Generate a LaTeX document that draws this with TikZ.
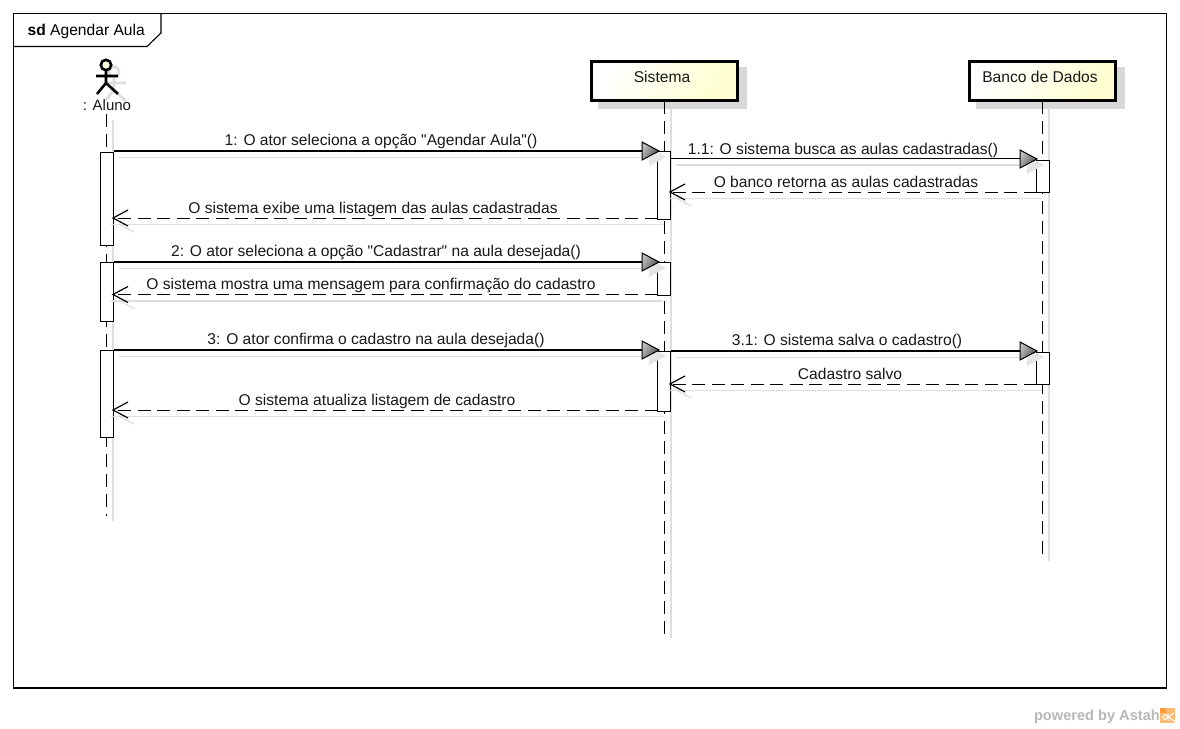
\documentclass[tikz,border=0pt]{standalone}
\usepackage{fontspec}
\newfontfamily\mf{Liberation Sans}
\begin{document}
\begin{tikzpicture}[x=1pt,y=-1pt,
  lbl/.style={font=\mf\fontsize{15.6}{18}\selectfont,inner sep=0pt,text=black!90},
  lifeln/.style={line width=1.2pt,dash pattern=on 13pt off 7pt,black},
  lifeshadow/.style={line width=1.6pt,draw=black!13},
  msg/.style={line width=1.1pt,black},
  retmsg/.style={line width=1pt,black,dash pattern=on 13pt off 6.5pt},
  msgshadow/.style={line width=1.6pt,draw=black!13},
  bar/.style={draw=black,fill=white,line width=1.1pt,minimum width=13pt,inner sep=0pt,anchor=north},
  headbox/.style={draw=black,line width=3pt,left color=white,right color=yellow!18,shading angle=60,minimum width=146pt,minimum height=39pt,inner sep=0pt,font=\mf\fontsize{15.6}{18}\selectfont},
  shadowbox/.style={fill=black!15,minimum width=149pt,minimum height=42pt,inner sep=0pt},
  actorln/.style={line width=2.6pt,black},
  actorsh/.style={line width=2.6pt,black!13}]
\useasboundingbox (0,0) rectangle (1180,728);
\fill[white] (0,0) rectangle (1180,728);
% frame
\draw[line width=1.1pt,black,fill=white] (13.5,13.5) rectangle (1166.5,688);
\draw[line width=1.1pt,black] (13.5,46.5) -- (147,46.5) -- (161,33) -- (161,13.5);
\node[font=\mf\fontsize{15.6}{18}\selectfont,inner sep=0pt,anchor=west] (frametitle) at (27.5,31.5) {\textbf{sd} Agendar Aula};
% lifeline coordinates
\coordinate (aT) at (106.5,114); \coordinate (aB) at (106.5,516);
\coordinate (sT) at (664.5,101); \coordinate (sB) at (664.5,636);
\coordinate (bT) at (1042.5,101); \coordinate (bB) at (1042.5,558);
% shadows
\draw[lifeshadow] (113,120) -- (113,521);
\draw[lifeshadow] (671,108) -- (671,638);
\draw[lifeshadow] (1049,108) -- (1049,561);
\node[shadowbox] (sysShadow) at (672,88) {};
\node[shadowbox] (dbShadow) at (1050,88) {};
% actor shadow
\begin{scope}[shift={(8,7)}]
\draw[actorsh,fill=white] (106,65) circle (5.2);
\draw[actorsh] (106,71) -- (106,83) (96,76) -- (118,76) (97,94) -- (106,83) -- (118,94);
\end{scope}
% lifelines
\draw[lifeln] (aT) -- (aB);
\draw[lifeln] (sT) -- (sB);
\draw[lifeln] (bT) -- (bB);
% heads
\node[headbox] (sys) at (664,80.5) {};
\node[lbl] (syslabel) at (662,77) {Sistema};
\node[headbox] (db) at (1042.5,80.5) {};
\node[lbl] (dblabel) at (1040,77) {Banco de Dados};
% actor
\draw[actorln,fill=yellow!15] (106,65) circle (5.2);
\draw[actorln] (106,71) -- (106,83) (96,76) -- (118,76) (97,94) -- (106,83) -- (118,94);
\node[lbl,font=\mf\fontsize{15}{18}\selectfont] (actor) at (107,105.5) {: Aluno};
% activation bars
\node[bar,minimum height=93.5pt] (a1) at (107,151.5) {};
\node[bar,minimum height=59.5pt] (a2) at (107,261.5) {};
\node[bar,minimum height=87.5pt] (a3) at (107,349.5) {};
\node[bar,minimum height=68pt] (s1) at (664,151) {};
\node[bar,minimum height=33pt] (s2) at (664,262) {};
\node[bar,minimum height=60pt] (s3) at (664,351) {};
\node[bar,minimum height=32.5pt] (b1) at (1043,159.5) {};
\node[bar,minimum height=32.5pt] (b2) at (1043,351.5) {};
\newcommand{\callarrow}[2]{% tip x, y
  \fill[black!10] (#1-10,#2-3) -- (#1+7,#2+6) -- (#1-10,#2+15) -- cycle;
  \draw[line width=1pt,black,top color=black!25,bottom color=black!70,shading angle=60] (#1-17,#2-9) -- (#1,#2) -- (#1-17,#2+9) -- cycle;
}
\newcommand{\retarrow}[2]{% tip x, y
  \draw[line width=1.2pt,black!13] (#1+6,#2+6) -- (#1+21,#2+14);
  \draw[line width=1.2pt,black] (#1+15,#2-8) -- (#1,#2) -- (#1+15,#2+8);
}
\coordinate (m1a) at (113.5,151); \coordinate (m1b) at (659,151);
\coordinate (m11a) at (670.5,158.5); \coordinate (m11b) at (1036.5,158.5);
\coordinate (r11a) at (1036.5,192); \coordinate (r11b) at (670.5,192);
\coordinate (r1a) at (657.5,218); \coordinate (r1b) at (113.5,218);
\coordinate (m2a) at (113.5,262); \coordinate (m2b) at (659,262);
\coordinate (r2a) at (657.5,294.5); \coordinate (r2b) at (113.5,294.5);
\coordinate (m3a) at (113.5,350); \coordinate (m3b) at (659,350);
\coordinate (m31a) at (670.5,351); \coordinate (m31b) at (1036.5,351);
\coordinate (r31a) at (1036.5,384); \coordinate (r31b) at (670.5,384);
\coordinate (r3a) at (657.5,410); \coordinate (r3b) at (113.5,410);
\foreach \p/\q in {m1a/m1b,m11a/m11b,r11a/r11b,r1a/r1b,m2a/m2b,r2a/r2b,m3a/m3b,m31a/m31b,r31a/r31b,r3a/r3b}{
  \draw[msgshadow] ([shift={(5,6.5)}]\p) -- ([shift={(-3,6.5)}]\q);
}
% lines
\draw[msg] (m1a) -- (m1b); \draw[msg] (m11a) -- (m11b);
\draw[retmsg] (r11a) -- (r11b); \draw[retmsg] (r1a) -- (r1b);
\draw[msg] (m2a) -- (m2b); \draw[retmsg] (r2a) -- (r2b);
\draw[msg] (m3a) -- (m3b); \draw[msg] (m31a) -- (m31b);
\draw[retmsg] (r31a) -- (r31b); \draw[retmsg] (r3a) -- (r3b);
% arrowheads
\callarrow{659}{151} \callarrow{1037}{159} \callarrow{659}{262}
\callarrow{659}{350} \callarrow{1037}{351}
\retarrow{670}{192} \retarrow{113}{218} \retarrow{113}{294.5}
\retarrow{670}{384} \retarrow{113}{410}
% labels
\node[lbl] (l1) at (381,141) {1: O ator seleciona a opção "Agendar Aula"()};
\node[lbl] (l11) at (843,150) {1.1: O sistema busca as aulas cadastradas()};
\node[lbl] (l11r) at (846,182) {O banco retorna as aulas cadastradas};
\node[lbl] (l1r) at (373,209) {O sistema exibe uma listagem das aulas cadastradas};
\node[lbl] (l2) at (376,252) {2: O ator seleciona a opção "Cadastrar" na aula desejada()};
\node[lbl] (l2r) at (371,285) {O sistema mostra uma mensagem para confirmação do cadastro};
\node[lbl] (l3) at (376,340) {3: O ator confirma o cadastro na aula desejada()};
\node[lbl] (l31) at (847,341) {3.1: O sistema salva o cadastro()};
\node[lbl] (l31r) at (850,374) {Cadastro salvo};
\node[lbl] (l3r) at (377,401) {O sistema atualiza listagem de cadastro};
% watermark
\node[font=\mf\fontsize{14.6}{17}\selectfont\bfseries,text=black!28,inner sep=0pt,anchor=east] (wm) at (1160,716.5) {powered by Astah};
\fill[orange!55] (1160,708) rectangle (1175,723);
\fill[orange!80] (1160,708) rectangle (1166,713);
\draw[white,line width=1pt] (1165,717) circle (2.3) (1168,714) -- (1168,721) (1168,717) -- (1174,713) (1169,717) -- (1175,722);
\end{tikzpicture}
\end{document}
